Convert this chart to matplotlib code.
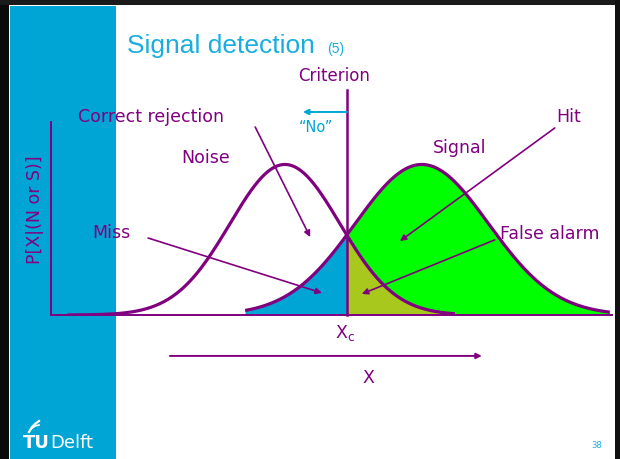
import numpy as np
import matplotlib
matplotlib.use("Agg")
import matplotlib.pyplot as plt
from matplotlib.patches import Rectangle

# Distribution parameters (x in arbitrary X units, y relative)
noise_mean, noise_sd = 4.17, 0.98
signal_mean, signal_sd = 6.61, 1.19
peak_height = 0.78
noise_range = (0.29, 7.2)
signal_range = (3.46, 9.96)
criterion = 5.28

labels = ["Correct rejection", "Noise", "Signal", "Hit", "Miss", "False alarm"]

PURPLE = "#800080"
CYAN = "#00A5D6"
TITLE_C = "#1AAEE0"
GREEN = "#00FF00"
OLIVE = "#A8C81E"

fig = plt.figure(figsize=(6.2, 4.59), dpi=100)

# slide background / decoration in pixel coordinates
bg = fig.add_axes([0, 0, 1, 1], zorder=0)
bg.set_xlim(0, 620)
bg.set_ylim(459, 0)
bg.axis('off')
bg.add_patch(Rectangle((10, 6), 106, 453, color=CYAN, lw=0))
bg.add_patch(Rectangle((0, 0), 9, 459, color="#0a0a0a", lw=0))
bg.add_patch(Rectangle((0, 0), 620, 5, color="#1a1a1a", lw=0))
bg.add_patch(Rectangle((615, 0), 5, 459, color="#111111", lw=0))
bg.text(127, 53, "Signal detection", color=TITLE_C, fontsize=19,
        family="Liberation Sans", va="baseline", ha="left")
bg.text(327, 53, "(5)", color=TITLE_C, fontsize=10,
        family="Liberation Sans", va="baseline", ha="left")
bg.text(597, 446, "38", color=TITLE_C, fontsize=6, ha="center", va="center")
# logo
bg.text(23, 448, "TU", color="white", fontsize=13, fontweight="bold",
        family="DejaVu Sans", va="baseline", ha="left")
bg.text(50, 448, "Delft", color="white", fontsize=13,
        family="DejaVu Sans", va="baseline", ha="left")
bg.plot([29, 32, 35, 39], [432, 427, 424, 421], color="white", lw=1.6)
bg.plot([31, 35, 39], [429, 426, 425], color="white", lw=1.2)

# chart axes
ax = fig.add_axes([51 / 620, 1 - 315 / 459, 561 / 620, 193 / 459], zorder=1)
ax.patch.set_alpha(0)
ax.set_xlim(0, 10)
ax.set_ylim(0, 1)
for s in ["top", "right"]:
    ax.spines[s].set_visible(False)
for s in ["left", "bottom"]:
    ax.spines[s].set_color(PURPLE)
    ax.spines[s].set_linewidth(1.4)
ax.set_xticks([])
ax.set_yticks([])


def curve(mean, sd, x):
    return peak_height * np.exp(-0.5 * ((x - mean) / sd) ** 2)


xn = np.linspace(noise_range[0], noise_range[1], 400)
xs = np.linspace(signal_range[0], signal_range[1], 400)
yn = curve(noise_mean, noise_sd, xn)
ys = curve(signal_mean, signal_sd, xs)

# filled areas
xm = np.linspace(signal_range[0], criterion, 200)
ax.fill_between(xm, 0, curve(signal_mean, signal_sd, xm), color=CYAN, lw=0)
xf = np.linspace(criterion, noise_range[1], 200)
ax.fill_between(xf, 0, curve(noise_mean, noise_sd, xf), color=OLIVE, lw=0)
xh = np.linspace(criterion, signal_range[1], 300)
nh = np.where(xh <= noise_range[1], curve(noise_mean, noise_sd, xh), 0)
ax.fill_between(xh, nh, curve(signal_mean, signal_sd, xh), color=GREEN, lw=0)

ax.plot(xn, yn, color=PURPLE, lw=2.3, solid_capstyle="butt")
ax.plot(xs, ys, color=PURPLE, lw=2.3, solid_capstyle="butt")

# criterion line
ax.plot([criterion, criterion], [0, 1.166], color=PURPLE, lw=1.8, clip_on=False)
ax.text(5.04, 1.238, "Criterion", color=PURPLE, fontsize=12, ha="center", va="center")
ax.annotate("", xy=(4.49, 1.052), xytext=(criterion, 1.052), annotation_clip=False,
            arrowprops=dict(arrowstyle="-|>", color=CYAN, lw=1.4, mutation_scale=8,
                            shrinkA=0, shrinkB=0))
ax.text(4.72, 0.974, "\u201cNo\u201d", color=CYAN, fontsize=10.5, ha="center", va="center")

tk = dict(color=PURPLE, fontsize=12.5, va="center")
arr = dict(arrowstyle="-|>", color=PURPLE, lw=1.2, mutation_scale=9, shrinkA=0, shrinkB=0)

ax.text(0.48, 1.026, labels[0], ha="left", **tk)
ax.annotate("", xy=(4.62, 0.404), xytext=(3.64, 0.974), annotation_clip=False, arrowprops=arr)
ax.text(2.75, 0.813, labels[1], ha="center", **tk)
ax.text(7.29, 0.865, labels[2], ha="center", **tk)
ax.text(9.23, 1.026, labels[3], ha="center", **tk)
ax.annotate("", xy=(6.22, 0.383), xytext=(8.98, 0.969), annotation_clip=False, arrowprops=arr)
ax.text(0.73, 0.425, labels[4], ha="left", **tk)
ax.annotate("", xy=(4.83, 0.114), xytext=(1.73, 0.399), annotation_clip=False, arrowprops=arr)
ax.text(8.0, 0.42, labels[5], ha="left", **tk)
ax.annotate("", xy=(5.54, 0.109), xytext=(7.91, 0.389), annotation_clip=False, arrowprops=arr)

ax.text(5.24, -0.093, "X$_\\mathregular{c}$", color=PURPLE, fontsize=12.5,
        ha="center", va="center")
ax.annotate("", xy=(7.68, -0.212), xytext=(2.12, -0.212), annotation_clip=False,
            arrowprops=dict(arrowstyle="-|>", color=PURPLE, lw=1.4, mutation_scale=8,
                            shrinkA=0, shrinkB=0))
ax.text(5.65, -0.326, "X", color=PURPLE, fontsize=12.5, ha="center", va="center")
ax.text(-0.285, 0.544, "P[X|(N or S)]", color=PURPLE, fontsize=12.5, rotation=90,
        ha="center", va="center")

fig.savefig("out.png", dpi=100)
